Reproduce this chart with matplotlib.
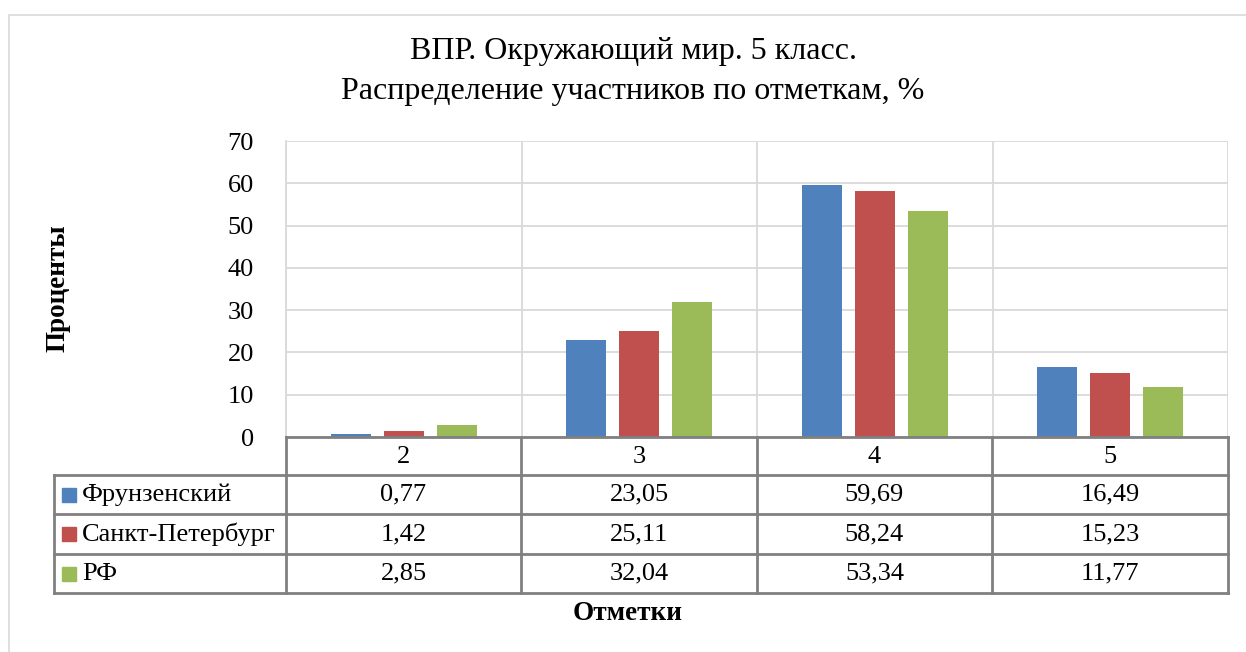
import matplotlib
matplotlib.use("Agg")
import matplotlib.pyplot as plt
from matplotlib.patches import Rectangle
from matplotlib.lines import Line2D
import numpy as np

plt.rcParams['font.family'] = ['Liberation Serif', 'DejaVu Serif']

categories = ["2", "3", "4", "5"]
series_names = ["Фрунзенский", "Санкт-Петербург", "РФ"]
frunz = [0.77, 23.05, 59.69, 16.49]
spb = [1.42, 25.11, 58.24, 15.23]
rf = [2.85, 32.04, 53.34, 11.77]
series_values = [frunz, spb, rf]
colors = ["#4F81BD", "#C0504D", "#9BBB59"]
title_lines = ["ВПР. Окружающий мир. 5 класс.", "Распределение участников по отметкам, %"]
ylabel = "Проценты"
xlabel = "Отметки"
yticks = [0, 10, 20, 30, 40, 50, 60, 70]

W, H = 1246, 652
fig = plt.figure(figsize=(W / 100, H / 100), dpi=100)

def fx(px):
    return px / W

def fy(py):
    return 1 - py / H

# outer chart border (continues beyond the right and bottom image edges)
fig.patches.append(Rectangle((fx(8.5), fy(700)), fx(1300 - 8.5), fy(14.5) - fy(700),
                             transform=fig.transFigure, fill=False,
                             edgecolor="#D9D9D9", linewidth=1.2))

ax_l, ax_r, ax_t, ax_b = 286, 1228, 141, 437
ax = fig.add_axes([fx(ax_l), fy(ax_b), fx(ax_r - ax_l), fy(ax_t) - fy(ax_b)])

x = np.arange(len(categories))
offsets = [-0.225, 0.0, 0.225]
bw = 0.17
for vals, off, c in zip(series_values, offsets, colors):
    ax.bar(x + off, vals, width=bw, color=c, zorder=3)

ax.set_xlim(-0.5, len(categories) - 0.5)
ax.set_ylim(0, 70)
ax.set_yticks(yticks)
ax.set_yticklabels([str(t) for t in yticks], fontsize=19)
ax.tick_params(axis="y", length=0, pad=23)
ax.set_xticks([])
ax.set_xticks(np.arange(-0.5, len(categories), 1.0), minor=True)
ax.tick_params(axis="x", which="minor", length=0)
ax.grid(axis="y", color="#D9D9D9", linewidth=1.3, zorder=0)
ax.grid(axis="x", which="minor", color="#D9D9D9", linewidth=1.3, zorder=0)
for s in ["top", "right", "bottom"]:
    ax.spines[s].set_visible(False)
ax.spines["left"].set_color("#D9D9D9")
ax.spines["left"].set_linewidth(1.3)

# title
fig.text(fx(633), fy(52), title_lines[0], ha="center", va="center", fontsize=23)
fig.text(fx(633), fy(92), title_lines[1], ha="center", va="center", fontsize=23)
# y label
fig.text(fx(58), fy(288), ylabel, rotation=90, ha="center", va="center",
         fontsize=19.5, fontweight="bold")
# x label
fig.text(fx(628), fy(614), xlabel, ha="center", va="center",
         fontsize=19.5, fontweight="bold")

# data table
tcol = "#808080"
row_y = [437, 475, 514, 554, 593]
col_x = [286, 521, 757, 992, 1228]
tl = 54
lw = 2.0

def hline(x0, x1, y):
    fig.add_artist(Line2D([fx(x0), fx(x1)], [fy(y), fy(y)], color=tcol, lw=lw,
                          transform=fig.transFigure, solid_capstyle="projecting"))

def vline(xp, y0, y1):
    fig.add_artist(Line2D([fx(xp), fx(xp)], [fy(y0), fy(y1)], color=tcol, lw=lw,
                          transform=fig.transFigure, solid_capstyle="projecting"))

hline(col_x[0], col_x[-1], row_y[0])
for y in row_y[1:]:
    hline(tl, col_x[-1], y)
for xp in col_x:
    vline(xp, row_y[0], row_y[-1])
vline(tl, row_y[1], row_y[-1])

for j, cat in enumerate(categories):
    cx = (col_x[j] + col_x[j + 1]) / 2
    cy = (row_y[0] + row_y[1]) / 2 + 1
    fig.text(fx(cx), fy(cy), cat, ha="center", va="center", fontsize=19)

for i, (name, vals, c) in enumerate(zip(series_names, series_values, colors)):
    cy = (row_y[i + 1] + row_y[i + 2]) / 2
    fig.patches.append(Rectangle((fx(62), fy(cy + 7)), fx(14), fy(cy - 7) - fy(cy + 7),
                                 transform=fig.transFigure, color=c))
    fig.text(fx(82), fy(cy), name, ha="left", va="center", fontsize=19)
    for j, v in enumerate(vals):
        cx = (col_x[j] + col_x[j + 1]) / 2
        fig.text(fx(cx), fy(cy), f"{v:.2f}".replace(".", ","), ha="center",
                 va="center", fontsize=19)

fig.savefig("out.png", dpi=100, facecolor="white")
